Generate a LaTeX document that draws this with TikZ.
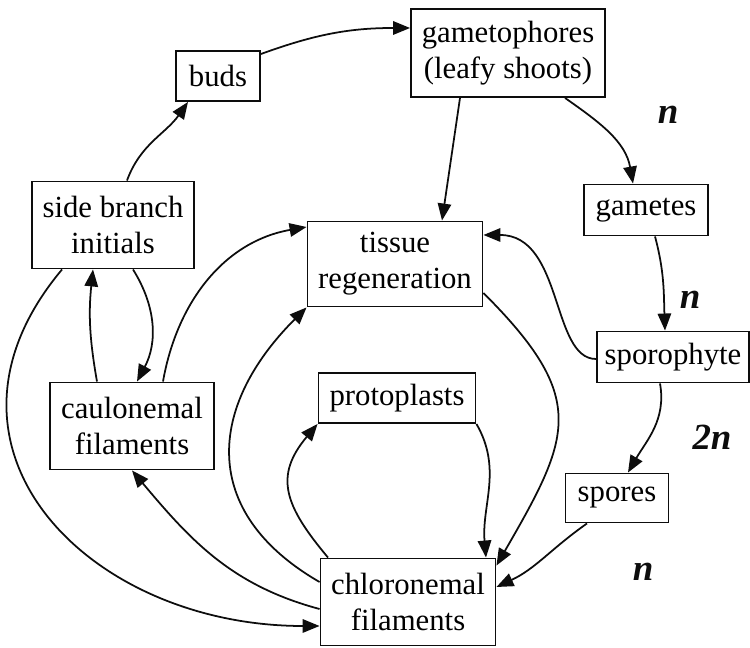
\documentclass[tikz,border=0pt]{standalone}
\usepackage{fontspec}
\setmainfont{Liberation Serif}
\usetikzlibrary{arrows.meta,calc}
\definecolor{figdark}{gray}{0.05}
\tikzset{
  stage/.style={
    rectangle, draw=figdark, fill=white, line width=1.1pt,
    inner sep=0pt, align=center,
    font=\fontsize{17.5}{20.5}\selectfont
  },
  ploidy/.style={
    inner sep=0pt, text=figdark,
    font=\fontsize{21}{24}\selectfont\bfseries\itshape
  },
  arrow/.style={-{Triangle[length=0.34cm,width=0.27cm]}, line width=1pt, draw=figdark}
}

\begin{document}
\begin{tikzpicture}[x=0.02cm, y=0.02cm]
  \useasboundingbox (0,0) rectangle (750,648);

  % Life cycle stages
  \node[stage, minimum width=1.68cm, minimum height=1cm] (buds) at (218,572) {buds};
  \node[stage, minimum width=3.88cm, minimum height=1.76cm] (gameto) at (508,595) {gametophores\\(leafy shoots)};
  \node[stage, minimum width=2.48cm, minimum height=1.02cm] (gametes) at (646,438) {gametes};
  \node[stage, minimum width=3.24cm, minimum height=1.74cm] (side) at (113,423) {side branch\\initials};
  \node[stage, minimum width=3.5cm, minimum height=1.7cm] (tissue) at (395,384) {tissue\\regeneration};
  \node[stage, minimum width=3.04cm, minimum height=1.02cm] (sporo) at (673,291) {sporophyte};
  \node[stage, minimum width=3.14cm, minimum height=1cm] (proto) at (397,250) {protoplasts};
  \node[stage, minimum width=3.28cm, minimum height=1.74cm] (caulo) at (132,222) {caulonemal\\filaments};
  \node[stage, minimum width=2.06cm, minimum height=0.98cm] (spores) at (617,150) {spores};
  \node[stage, minimum width=3.5cm, minimum height=1.74cm] (chloro) at (408,46) {chloronemal\\filaments};

  % Ploidy marks
  \node[ploidy] (hapA) at (668,533) {n};
  \node[ploidy] (hapB) at (690,348) {n};
  \node[ploidy] (dip) at (712,211) {2n};
  \node[ploidy] (hapC) at (643,76) {n};

  % Outer cycle
  \draw[arrow] ($(side.north)+(14,0)$) to[out=70,in=-125] ($(buds.south)+(-30,0)$);
  \draw[arrow] ($(buds.east)+(0,22)$) to[out=20,in=180] ($(gameto.west)+(0,25)$);
  \draw[arrow] ($(gameto.south)+(57,0)$) to[out=-35,in=100] ($(gametes.north)+(-13,0)$);
  \draw[arrow] ($(gametes.south)+(9,0)$) to[out=-75,in=92] ($(sporo.north)+(-8,0)$);
  \draw[arrow] ($(sporo.south)+(-13,0)$) to[out=-80,in=60] ($(spores.north)+(11,0)$);
  \draw[arrow] ($(spores.south)+(-30,0)$) to[out=-145,in=25] ($(chloro.east)+(0,15)$);
  \draw[arrow] ($(chloro.west)+(0,-7)$) to[out=165,in=-50] (caulo.south);
  \draw[arrow] ($(side.south west)+(31,0)$) to[out=-130,in=180,looseness=1.35] ($(chloro.west)+(0,-24)$);

  % Between caulonema and side branches
  \draw[arrow] ($(caulo.north)+(-35,0)$) to[bend left=8] ($(side.south)+(-20,0)$);
  \draw[arrow] ($(side.south)+(20,0)$) to[bend left=30] ($(caulo.north)+(5,0)$);

  % Regeneration
  \draw[arrow] ($(gameto.south)+(-48,0)$) -- ($(tissue.north)+(47,0)$);
  \draw[arrow] ($(caulo.north)+(31,0)$) to[out=80,in=190] ($(tissue.west)+(0,37)$);
  \draw[arrow] ($(sporo.west)+(0,-2)$) .. controls +(-45,0) and +(80,0) .. ($(tissue.east)+(0,29)$);
  \draw[arrow] ($(tissue.east)+(0,-29)$) to[out=-45,in=60,looseness=1.4] ($(chloro.north east)+(0,-8)$);
  \draw[arrow] ($(chloro.west)+(0,20)$) to[out=150,in=-135,looseness=1.3] (tissue.south west);
  \draw[arrow] (proto.south east) to[out=-60,in=95] ($(chloro.north)+(78,0)$);
  \draw[arrow] ($(chloro.north)+(-80,0)$) to[out=130,in=-130,looseness=1.3] (proto.south west);

\end{tikzpicture}
\end{document}
